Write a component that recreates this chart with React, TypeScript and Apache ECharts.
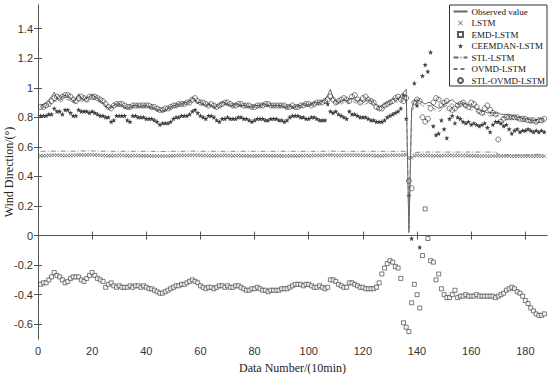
import React, { useEffect, useRef } from "react";
import * as echarts from "echarts";

// Data Number 1..187
const observed = [
  0.88, 0.89, 0.90, 0.92, 0.94, 0.97, 0.93, 0.92, 0.94, 0.95,
  0.94, 0.93, 0.91, 0.92, 0.96, 0.93, 0.92, 0.93, 0.94, 0.95,
  0.94, 0.93, 0.91, 0.90, 0.88, 0.86, 0.87, 0.88, 0.89, 0.89,
  0.88, 0.87, 0.86, 0.87, 0.88, 0.88, 0.88, 0.87, 0.88, 0.88,
  0.87, 0.87, 0.86, 0.85, 0.85, 0.84, 0.85, 0.86, 0.87, 0.88,
  0.88, 0.89, 0.89, 0.90, 0.90, 0.91, 0.93, 0.92, 0.90, 0.90,
  0.89, 0.88, 0.89, 0.88, 0.87, 0.87, 0.89, 0.90, 0.90, 0.89,
  0.88, 0.88, 0.89, 0.89, 0.88, 0.88, 0.88, 0.87, 0.87, 0.88,
  0.88, 0.88, 0.89, 0.89, 0.88, 0.88, 0.88, 0.88, 0.88, 0.88,
  0.87, 0.87, 0.88, 0.87, 0.87, 0.88, 0.88, 0.89, 0.89, 0.88,
  0.89, 0.90, 0.90, 0.90, 0.91, 0.92, 0.95, 0.99, 0.93, 0.91,
  0.90, 0.91, 0.92, 0.91, 0.92, 0.93, 0.92, 0.91, 0.92, 0.90,
  0.91, 0.92, 0.91, 0.90, 0.88, 0.87, 0.88, 0.89, 0.90, 0.91,
  0.92, 0.93, 0.92, 0.95, 0.97, 0.99, 0.02, 0.86, 0.91, 0.92,
  0.91, 0.90, 0.89, 0.90, 0.90, 0.88, 0.87, 0.86, 0.87, 0.89,
  0.90, 0.91, 0.92, 0.90, 0.89, 0.89, 0.90, 0.89, 0.88, 0.87,
  0.87, 0.86, 0.85, 0.84, 0.84, 0.83, 0.83, 0.83, 0.83, 0.83,
  0.82, 0.82, 0.82, 0.82, 0.81, 0.81, 0.80, 0.80, 0.79, 0.79,
  0.79, 0.78, 0.78, 0.78, 0.79, 0.79, 0.79,
];

const lstm = [
  0.540, 0.540, 0.541, 0.542, 0.543, 0.544, 0.544, 0.543, 0.542, 0.541,
  0.541, 0.542, 0.543, 0.544, 0.545, 0.545, 0.544, 0.545, 0.546, 0.546,
  0.545, 0.544, 0.543, 0.542, 0.541, 0.540, 0.540, 0.541, 0.541, 0.542,
  0.542, 0.541, 0.540, 0.540, 0.541, 0.541, 0.541, 0.540, 0.540, 0.540,
  0.540, 0.539, 0.539, 0.538, 0.538, 0.538, 0.538, 0.539, 0.540, 0.540,
  0.541, 0.541, 0.542, 0.542, 0.542, 0.543, 0.544, 0.544, 0.543, 0.542,
  0.541, 0.541, 0.541, 0.540, 0.540, 0.540, 0.541, 0.541, 0.542, 0.541,
  0.541, 0.540, 0.541, 0.541, 0.540, 0.540, 0.540, 0.540, 0.539, 0.540,
  0.540, 0.540, 0.541, 0.541, 0.540, 0.540, 0.540, 0.540, 0.540, 0.540,
  0.539, 0.539, 0.540, 0.540, 0.540, 0.540, 0.540, 0.541, 0.541, 0.540,
  0.541, 0.541, 0.542, 0.542, 0.542, 0.543, 0.544, 0.545, 0.544, 0.542,
  0.542, 0.542, 0.543, 0.543, 0.543, 0.544, 0.544, 0.543, 0.543, 0.542,
  0.542, 0.542, 0.542, 0.541, 0.540, 0.540, 0.540, 0.541, 0.542, 0.542,
  0.543, 0.543, 0.543, 0.544, 0.545, 0.546, 0.520, 0.525, 0.540, 0.542,
  0.542, 0.541, 0.541, 0.541, 0.541, 0.540, 0.540, 0.540, 0.540, 0.541,
  0.541, 0.542, 0.542, 0.541, 0.541, 0.541, 0.541, 0.541, 0.540, 0.540,
  0.540, 0.540, 0.539, 0.539, 0.539, 0.538, 0.538, 0.538, 0.538, 0.538,
  0.538, 0.538, 0.538, 0.538, 0.537, 0.537, 0.537, 0.537, 0.537, 0.537,
  0.537, 0.537, 0.537, 0.537, 0.537, 0.537, 0.537,
];

const emdLstm = [
  -0.33, -0.32, -0.32, -0.30, -0.28, -0.25, -0.27, -0.28, -0.30, -0.32,
  -0.31, -0.29, -0.28, -0.28, -0.28, -0.30, -0.31, -0.29, -0.27, -0.25,
  -0.27, -0.29, -0.30, -0.31, -0.35, -0.33, -0.32, -0.34, -0.35, -0.34,
  -0.35, -0.35, -0.35, -0.34, -0.35, -0.34, -0.34, -0.35, -0.34, -0.35,
  -0.36, -0.36, -0.37, -0.38, -0.39, -0.39, -0.38, -0.37, -0.36, -0.35,
  -0.34, -0.34, -0.33, -0.33, -0.32, -0.31, -0.30, -0.31, -0.32, -0.34,
  -0.35, -0.36, -0.35, -0.35, -0.36, -0.35, -0.34, -0.34, -0.35, -0.34,
  -0.35, -0.35, -0.34, -0.34, -0.35, -0.36, -0.37, -0.37, -0.36, -0.36,
  -0.35, -0.36, -0.37, -0.37, -0.38, -0.37, -0.37, -0.37, -0.37, -0.36,
  -0.36, -0.36, -0.35, -0.34, -0.33, -0.33, -0.33, -0.34, -0.33, -0.33,
  -0.34, -0.35, -0.35, -0.34, -0.35, -0.36, -0.35, -0.30, -0.30, -0.31,
  -0.33, -0.34, -0.35, -0.35, -0.32, -0.32, -0.33, -0.34, -0.35, -0.35,
  -0.36, -0.36, -0.36, -0.36, -0.35, -0.32, -0.26, -0.22, -0.19, -0.17,
  -0.18, -0.21, -0.22, -0.29, -0.59, -0.62, -0.65, -0.455, -0.33, -0.40,
  -0.49, -0.135, 0.18, -0.02, -0.17, -0.18, -0.30, -0.26, -0.36, -0.40,
  -0.42, -0.42, -0.40, -0.37, -0.42, -0.41, -0.41, -0.40, -0.41, -0.41,
  -0.41, -0.40, -0.41, -0.41, -0.41, -0.41, -0.41, -0.41, -0.42, -0.41,
  -0.40, -0.39, -0.37, -0.36, -0.35, -0.36, -0.38, -0.39, -0.41, -0.44,
  -0.46, -0.49, -0.51, -0.53, -0.54, -0.54, -0.53,
];

const ceemdanLstm = [
  0.81, 0.81, 0.81, 0.82, 0.82, 0.86, 0.84, 0.84, 0.82, 0.85,
  0.85, 0.83, 0.81, 0.81, 0.85, 0.84, 0.84, 0.84, 0.83, 0.84,
  0.83, 0.82, 0.81, 0.81, 0.80, 0.80, 0.77, 0.78, 0.81, 0.81,
  0.81, 0.81, 0.78, 0.77, 0.81, 0.81, 0.80, 0.80, 0.80, 0.79,
  0.79, 0.79, 0.78, 0.77, 0.75, 0.76, 0.76, 0.76, 0.77, 0.79,
  0.80, 0.80, 0.81, 0.81, 0.81, 0.82, 0.84, 0.85, 0.83, 0.81,
  0.80, 0.79, 0.81, 0.81, 0.80, 0.78, 0.77, 0.79, 0.79, 0.80,
  0.79, 0.79, 0.79, 0.80, 0.80, 0.79, 0.79, 0.78, 0.77, 0.78,
  0.79, 0.79, 0.79, 0.78, 0.78, 0.79, 0.79, 0.79, 0.78, 0.78,
  0.77, 0.78, 0.80, 0.81, 0.81, 0.81, 0.80, 0.80, 0.79, 0.79,
  0.80, 0.80, 0.79, 0.78, 0.78, 0.78, 0.89, 0.84, 0.83, 0.84,
  0.82, 0.81, 0.80, 0.79, 0.84, 0.82, 0.82, 0.81, 0.80, 0.80,
  0.80, 0.79, 0.78, 0.78, 0.77, 0.77, 0.77, 0.78, 0.80, 0.81,
  0.82, 0.83, 0.84, 0.86, 0.95, 0.79, 0.27, -0.02, 1.03, 0.88,
  -0.08, 1.08, 1.155, 1.11, 1.24, 0.74, 0.68, 0.69, 0.78, 0.72,
  0.66, 0.79, 0.81, 0.76, 0.80, 0.79, 0.77, 0.76, 0.77, 0.75,
  0.76, 0.75, 0.74, 0.75, 0.76, 0.73, 0.70, 0.75, 0.77, 0.77,
  0.76, 0.74, 0.75, 0.72, 0.69, 0.71, 0.72, 0.70, 0.71, 0.71,
  0.72, 0.71, 0.70, 0.71, 0.70, 0.71, 0.70,
];

const stlLstm = [
  0.570, 0.570, 0.570, 0.571, 0.571, 0.571, 0.571, 0.571, 0.571, 0.571,
  0.571, 0.571, 0.571, 0.571, 0.572, 0.572, 0.572, 0.572, 0.572, 0.572,
  0.572, 0.572, 0.571, 0.571, 0.571, 0.570, 0.570, 0.570, 0.570, 0.570,
  0.570, 0.570, 0.570, 0.570, 0.570, 0.570, 0.570, 0.570, 0.570, 0.570,
  0.570, 0.570, 0.569, 0.569, 0.569, 0.569, 0.569, 0.569, 0.570, 0.570,
  0.570, 0.570, 0.570, 0.570, 0.570, 0.571, 0.571, 0.571, 0.571, 0.570,
  0.570, 0.570, 0.570, 0.570, 0.570, 0.570, 0.570, 0.570, 0.570, 0.570,
  0.570, 0.570, 0.570, 0.570, 0.570, 0.570, 0.570, 0.570, 0.570, 0.570,
  0.570, 0.570, 0.570, 0.570, 0.570, 0.570, 0.570, 0.570, 0.570, 0.570,
  0.570, 0.570, 0.570, 0.570, 0.570, 0.570, 0.570, 0.570, 0.570, 0.570,
  0.570, 0.570, 0.570, 0.570, 0.570, 0.570, 0.571, 0.572, 0.571, 0.570,
  0.570, 0.570, 0.570, 0.570, 0.570, 0.570, 0.570, 0.570, 0.570, 0.570,
  0.570, 0.570, 0.570, 0.570, 0.570, 0.570, 0.570, 0.570, 0.570, 0.570,
  0.570, 0.570, 0.570, 0.570, 0.570, 0.566, 0.530, 0.535, 0.560, 0.563,
  0.564, 0.565, 0.565, 0.565, 0.565, 0.565, 0.565, 0.565, 0.565, 0.565,
  0.565, 0.565, 0.565, 0.565, 0.565, 0.565, 0.565, 0.565, 0.565, 0.565,
  0.565, 0.565, 0.565, 0.565, 0.565, 0.565, 0.565, 0.565, 0.564, 0.552,
  0.546, 0.545, 0.545, 0.545, 0.545, 0.545, 0.545, 0.545, 0.545, 0.545,
  0.546, 0.547, 0.548, 0.549, 0.550, 0.551, 0.552,
];

const ovmdLstm = [
  0.87, 0.87, 0.88, 0.89, 0.90, 0.91, 0.91, 0.90, 0.91, 0.92,
  0.92, 0.91, 0.90, 0.90, 0.91, 0.91, 0.90, 0.91, 0.92, 0.92,
  0.92, 0.91, 0.90, 0.89, 0.87, 0.86, 0.86, 0.87, 0.88, 0.88,
  0.87, 0.86, 0.86, 0.86, 0.87, 0.87, 0.87, 0.86, 0.87, 0.87,
  0.86, 0.86, 0.85, 0.84, 0.84, 0.84, 0.84, 0.85, 0.86, 0.87,
  0.87, 0.88, 0.88, 0.89, 0.89, 0.90, 0.91, 0.91, 0.89, 0.89,
  0.88, 0.87, 0.88, 0.87, 0.86, 0.86, 0.87, 0.88, 0.89, 0.88,
  0.87, 0.87, 0.88, 0.88, 0.87, 0.87, 0.87, 0.86, 0.86, 0.87,
  0.87, 0.87, 0.88, 0.88, 0.87, 0.87, 0.87, 0.87, 0.87, 0.87,
  0.86, 0.86, 0.87, 0.86, 0.86, 0.87, 0.87, 0.88, 0.88, 0.87,
  0.88, 0.89, 0.89, 0.89, 0.90, 0.90, 0.91, 0.93, 0.91, 0.89,
  0.89, 0.89, 0.90, 0.89, 0.90, 0.91, 0.90, 0.89, 0.90, 0.88,
  0.89, 0.90, 0.89, 0.88, 0.86, 0.85, 0.86, 0.87, 0.88, 0.89,
  0.90, 0.91, 0.90, 0.92, 0.94, 0.95, 0.05, 0.82, 0.89, 0.90,
  0.89, 0.88, 0.87, 0.88, 0.88, 0.86, 0.85, 0.84, 0.85, 0.87,
  0.88, 0.89, 0.89, 0.88, 0.87, 0.87, 0.88, 0.87, 0.86, 0.85,
  0.85, 0.84, 0.83, 0.82, 0.82, 0.81, 0.81, 0.81, 0.81, 0.81,
  0.80, 0.80, 0.80, 0.80, 0.79, 0.79, 0.78, 0.78, 0.77, 0.77,
  0.77, 0.76, 0.76, 0.76, 0.77, 0.77, 0.77,
];

const stlOvmdLstm = [
  0.87, 0.87, 0.88, 0.89, 0.91, 0.93, 0.94, 0.93, 0.94, 0.95,
  0.95, 0.94, 0.92, 0.91, 0.93, 0.94, 0.93, 0.92, 0.94, 0.94,
  0.94, 0.93, 0.92, 0.91, 0.89, 0.87, 0.86, 0.88, 0.89, 0.89,
  0.89, 0.88, 0.87, 0.87, 0.88, 0.88, 0.88, 0.88, 0.88, 0.88,
  0.88, 0.87, 0.87, 0.86, 0.85, 0.85, 0.86, 0.86, 0.87, 0.88,
  0.88, 0.89, 0.89, 0.89, 0.90, 0.90, 0.92, 0.93, 0.91, 0.90,
  0.90, 0.89, 0.88, 0.89, 0.88, 0.87, 0.88, 0.89, 0.90, 0.90,
  0.89, 0.88, 0.88, 0.89, 0.89, 0.88, 0.88, 0.88, 0.87, 0.87,
  0.88, 0.88, 0.88, 0.89, 0.89, 0.88, 0.88, 0.88, 0.88, 0.88,
  0.88, 0.87, 0.87, 0.88, 0.87, 0.87, 0.88, 0.88, 0.89, 0.89,
  0.88, 0.89, 0.90, 0.90, 0.90, 0.91, 0.92, 0.94, 0.92, 0.90,
  0.91, 0.92, 0.93, 0.92, 0.91, 0.94, 0.95, 0.92, 0.90, 0.93,
  0.94, 0.92, 0.91, 0.90, 0.87, 0.86, 0.86, 0.88, 0.89, 0.90,
  0.91, 0.93, 0.94, 0.92, 0.91, 0.93, 0.37, 0.32, 0.90, 0.92,
  0.91, 0.80, 0.77, 0.79, 0.86, 0.90, 0.93, 0.92, 0.88, 0.90,
  0.91, 0.86, 0.85, 0.86, 0.88, 0.89, 0.90, 0.88, 0.87, 0.90,
  0.89, 0.87, 0.84, 0.83, 0.86, 0.88, 0.85, 0.83, 0.82, 0.65,
  0.77, 0.79, 0.80, 0.80, 0.80, 0.80, 0.80, 0.79, 0.79, 0.79,
  0.78, 0.78, 0.78, 0.77, 0.78, 0.78, 0.79,
];

const xTicks = [0, 20, 40, 60, 80, 100, 120, 140, 160, 180];
const yTicks = [-0.6, -0.4, -0.2, 0, 0.2, 0.4, 0.6, 0.8, 1, 1.2, 1.4];

const legendNames = [
  "Observed value",
  "LSTM",
  "EMD-LSTM",
  "CEEMDAN-LSTM",
  "STL-LSTM",
  "OVMD-LSTM",
  "STL-OVMD-LSTM",
];
const lineSeriesNames = ["Observed value", "STL-LSTM", "OVMD-LSTM"];

const pairs = (arr: number[]) => arr.map((v, k) => [k + 1, v]);

const SERIF = "'Liberation Serif', 'Times New Roman', serif";
const SANS = "'Liberation Sans', Arial, sans-serif";
const AX = "#555";

const X_SYMBOL =
  "path://M0,1L1,0L5,4L9,0L10,1L6,5L10,9L9,10L5,6L1,10L0,9L4,5Z";
const STAR_SYMBOL =
  "path://M5,0L6.3,3.2L10,3.4L7.1,5.7L8.1,9.5L5,7.4L1.9,9.5L2.9,5.7L0,3.4L3.7,3.2Z";
const SQUARE_SYMBOL = "path://M0,0L10,0L10,10L0,10Z";

export default function App() {
  const ref = useRef<HTMLDivElement>(null);

  useEffect(() => {
    if (!ref.current) return;
    const chart = echarts.init(ref.current, null, { renderer: "svg" });

    const valueAxisCommon = {
      axisLine: { show: true, lineStyle: { color: AX, width: 1 } },
      splitLine: { show: false },
    };

    const legendData = legendNames.map((name) => {
      if (lineSeriesNames.indexOf(name) >= 0) {
        return {
          name,
          itemStyle: { color: "rgba(0,0,0,0)", borderColor: "rgba(0,0,0,0)", borderWidth: 0, opacity: 0 },
        };
      }
      if (name === "EMD-LSTM") return { name, icon: SQUARE_SYMBOL };
      if (name === "LSTM") return { name, icon: X_SYMBOL };
      if (name === "CEEMDAN-LSTM") return { name, icon: STAR_SYMBOL };
      return { name, icon: "circle" };
    });

    chart.setOption({
      animation: false,
      backgroundColor: "#fff",
      grid: { left: 38, right: 3, top: 5, bottom: 35, containLabel: false, outerBoundsMode: "none" },
      legend: {
        data: legendData,
        orient: "vertical",
        right: 3,
        top: 5,
        backgroundColor: "#fff",
        borderColor: "#333",
        borderWidth: 1,
        padding: [2, 2, 1, 3],
        itemWidth: 14,
        itemHeight: 5,
        itemGap: 2.5,
        textStyle: { fontFamily: SERIF, fontSize: 9, color: "#111", padding: [0, 0, 0, -1] },
        selectedMode: false,
      },
      xAxis: [
        {
          type: "value",
          min: 0,
          max: 188,
          position: "bottom",
          ...valueAxisCommon,
          axisTick: { show: true, inside: true, length: 4, customValues: xTicks, lineStyle: { color: AX } },
          axisLabel: {
            show: true,
            customValues: xTicks,
            margin: 6,
            fontFamily: SANS,
            fontSize: 11,
            color: "#333",
          },
          name: "Data Number/(10min)",
          nameLocation: "middle",
          nameGap: 23,
          nameMoveOverlap: false,
          nameTextStyle: { fontFamily: SERIF, fontSize: 12, color: "#222" },
        },
        {
          type: "value",
          min: 0,
          max: 188,
          position: "top",
          ...valueAxisCommon,
          axisTick: { show: true, inside: true, length: 4, customValues: xTicks, lineStyle: { color: AX } },
          axisLabel: { show: false },
        },
      ],
      yAxis: [
        {
          type: "value",
          min: -0.7,
          max: 1.56,
          position: "left",
          ...valueAxisCommon,
          axisTick: { show: true, inside: true, length: 4, customValues: yTicks, lineStyle: { color: AX } },
          axisLabel: {
            show: true,
            customValues: yTicks,
            margin: 5,
            fontFamily: SANS,
            fontSize: 11,
            color: "#333",
            formatter: (v: number) => String(Math.round(v * 10) / 10),
          },
          name: "Wind Direction/(°)",
          nameLocation: "middle",
          nameGap: 23,
          nameMoveOverlap: false,
          nameTextStyle: { fontFamily: SERIF, fontSize: 12, color: "#222" },
        },
        {
          type: "value",
          min: -0.7,
          max: 1.56,
          position: "right",
          ...valueAxisCommon,
          axisTick: { show: true, inside: true, length: 4, customValues: yTicks, lineStyle: { color: AX } },
          axisLabel: { show: false },
        },
      ],
      series: [
        {
          name: "EMD-LSTM",
          type: "scatter",
          data: pairs(emdLstm),
          symbol: "rect",
          symbolSize: 4,
          itemStyle: { color: "#fff", borderColor: "#333", borderWidth: 0.8 },
          z: 2,
        },
        {
          name: "LSTM",
          type: "scatter",
          data: pairs(lstm),
          symbol: X_SYMBOL,
          symbolSize: 4,
          itemStyle: { color: "#444" },
          z: 2,
        },
        {
          name: "STL-LSTM",
          type: "line",
          data: pairs(stlLstm),
          symbol: "none",
          itemStyle: { color: "#666" },
          lineStyle: { color: "#666", width: 0.8, type: [5, 2, 1, 2] },
          z: 3,
        },
        {
          name: "CEEMDAN-LSTM",
          type: "scatter",
          data: pairs(ceemdanLstm),
          symbol: STAR_SYMBOL,
          symbolSize: 5,
          itemStyle: { color: "#111" },
          z: 4,
        },
        {
          name: "OVMD-LSTM",
          type: "line",
          data: pairs(ovmdLstm),
          symbol: "none",
          itemStyle: { color: "#777" },
          lineStyle: { color: "#777", width: 0.8, type: [4, 3] },
          z: 4,
        },
        {
          name: "Observed value",
          type: "line",
          data: pairs(observed),
          symbol: "none",
          itemStyle: { color: "#666" },
          lineStyle: { color: "#666", width: 1 },
          z: 5,
        },
        {
          name: "STL-OVMD-LSTM",
          type: "scatter",
          data: pairs(stlOvmdLstm),
          symbol: "circle",
          symbolSize: 5,
          itemStyle: { color: "rgba(255,255,255,0)", borderColor: "#333", borderWidth: 0.8 },
          z: 6,
        },
      ],
    });

    return () => chart.dispose();
  }, []);

  return <div ref={ref} style={{ width: 550, height: 374, position: "absolute", left: 0, top: 0 }} />;
}
